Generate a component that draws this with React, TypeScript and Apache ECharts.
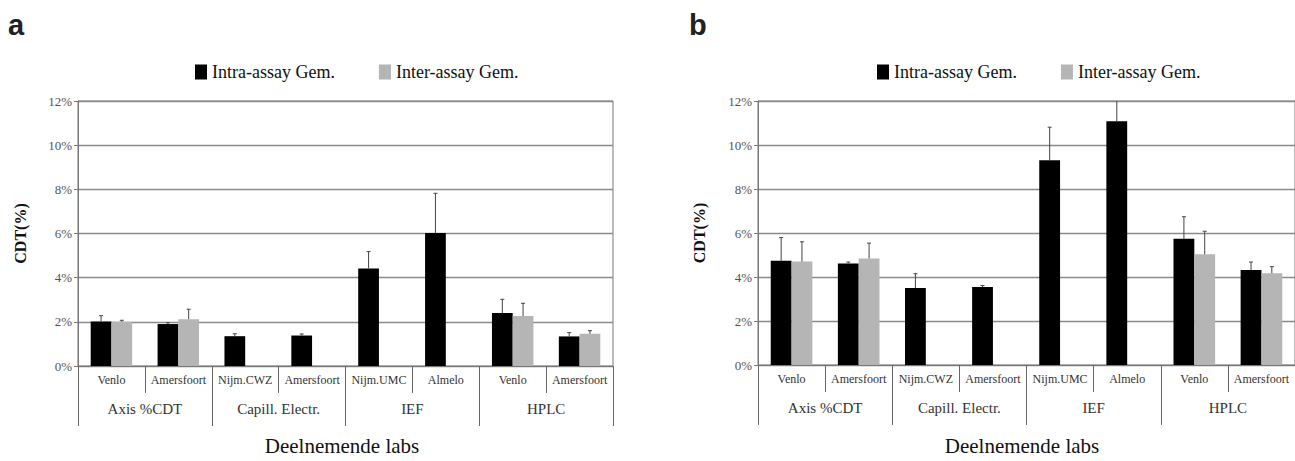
import React, { useEffect, useRef } from "react";
import * as echarts from "echarts";

const labs = ["Venlo", "Amersfoort", "Nijm.CWZ", "Amersfoort", "Nijm.UMC", "Almelo", "Venlo", "Amersfoort"];
const groups = ["Axis %CDT", "Capill. Electr.", "IEF", "HPLC"];
const yTicks = [0, 2, 4, 6, 8, 10, 12];

// Panel a
const aIntra = [2.02, 1.9, 1.35, 1.38, 4.42, 6.02, 2.4, 1.34];
const aIntraErr = [0.26, 0.06, 0.11, 0.07, 0.76, 1.8, 0.62, 0.17];
const aInter = [2.0, 2.12, null, null, null, null, 2.26, 1.46];
const aInterErr = [0.07, 0.45, null, null, null, null, 0.58, 0.14];

// Panel b
const bIntra = [4.74, 4.61, 3.5, 3.55, 9.31, 11.08, 5.74, 4.32];
const bIntraErr = [1.05, 0.07, 0.65, 0.06, 1.5, 1.3, 1.0, 0.36];
const bInter = [4.7, 4.84, null, null, null, null, 5.03, 4.17];
const bInterErr = [0.9, 0.7, null, null, null, null, 1.05, 0.3];

const SERIF = "'Liberation Serif', 'Times New Roman', serif";
const INTRA = "Intra-assay Gem.";
const INTER = "Inter-assay Gem.";
const BAR_W = 0.31;

function errData(vals: (number | null)[], errs: (number | null)[]) {
  const out: any[] = [];
  vals.forEach((v, i) => {
    if (v != null && errs[i] != null) out.push([i, v, errs[i]]);
  });
  return out;
}

function errSeries(idx: number, vals: (number | null)[], errs: (number | null)[], side: number) {
  return {
    type: "custom",
    xAxisIndex: idx * 2,
    yAxisIndex: idx,
    clip: true,
    silent: true,
    z: 5,
    data: errData(vals, errs),
    renderItem: (params: any, api: any) => {
      const x = api.value(0);
      const v = api.value(1);
      const e = api.value(2);
      const base = api.coord([x, v]);
      const top = api.coord([x, v + e]);
      const band = api.size([1, 0])[0];
      const cx = base[0] + side * band * BAR_W * 0.5;
      const st = { stroke: "#444", lineWidth: 1 };
      return {
        type: "group",
        children: [
          { type: "line", shape: { x1: cx, y1: base[1], x2: cx, y2: top[1] }, style: st },
          { type: "line", shape: { x1: cx - 2, y1: top[1], x2: cx + 2, y2: top[1] }, style: st },
        ],
      };
    },
  };
}

function xAxes(idx: number) {
  return [
    {
      type: "category",
      gridIndex: idx,
      data: labs,
      position: "bottom",
      axisLine: { show: true, lineStyle: { color: "#777", width: 1 } },
      axisTick: { show: true, interval: 0, length: 27, alignWithLabel: false, lineStyle: { color: "#666", width: 1 } },
      axisLabel: { interval: 0, margin: 8, fontFamily: SERIF, fontSize: 12, color: "#333" },
      splitLine: { show: false },
    },
    {
      type: "category",
      gridIndex: idx,
      data: groups,
      position: "bottom",
      axisLine: { show: false },
      axisTick: { show: true, interval: 0, length: 60, alignWithLabel: false, lineStyle: { color: "#666", width: 1 } },
      axisLabel: { interval: 0, margin: 35, fontFamily: SERIF, fontSize: 15, color: "#333" },
      splitLine: { show: false },
    },
  ];
}

function yAxis(idx: number, nameGap: number) {
  return {
    type: "value",
    gridIndex: idx,
    min: yTicks[0],
    max: yTicks[yTicks.length - 1],
    interval: 2,
    name: "CDT(%)",
    nameLocation: "middle",
    nameRotate: 90,
    nameGap,
    nameTextStyle: { fontFamily: SERIF, fontWeight: "bold", fontSize: 16, color: "#111" },
    axisLine: { show: true, lineStyle: { color: "#777", width: 1 } },
    axisTick: { show: true, length: 4, lineStyle: { color: "#777" } },
    axisLabel: { formatter: "{value}%", margin: 6, fontFamily: SERIF, fontSize: 13, color: "#555" },
    splitLine: { show: true, lineStyle: { color: "#8a8a8a", width: 1.3 } },
  };
}

function bars(idx: number, intra: (number | null)[], inter: (number | null)[]) {
  const common = {
    type: "bar",
    xAxisIndex: idx * 2,
    yAxisIndex: idx,
    barWidth: `${BAR_W * 100}%`,
    barGap: "0%",
  };
  return [
    { ...common, name: INTRA, data: intra, itemStyle: { color: "#000" } },
    { ...common, name: INTER, data: inter, itemStyle: { color: "#b5b5b5" } },
  ];
}

export default function App() {
  const ref = useRef<HTMLDivElement>(null);
  useEffect(() => {
    if (!ref.current) return;
    const chart = echarts.init(ref.current, undefined, { renderer: "svg" });
    const legendBase = {
      icon: "rect",
      itemWidth: 12,
      itemHeight: 15,
      itemGap: 44,
      top: 58,
      textStyle: { fontFamily: SERIF, fontSize: 18, color: "#111" },
      data: [INTRA, INTER],
      selectedMode: false,
    };
    chart.setOption({
      animation: false,
      backgroundColor: "#fff",
      textStyle: { fontFamily: SERIF },
      legend: [
        { ...legendBase, left: 190 },
        { ...legendBase, left: 872 },
      ],
      grid: [
        { left: 78, top: 101, width: 535, height: 265, show: true, borderColor: "#777", borderWidth: 1 },
        { left: 758, top: 101, width: 542, height: 264, show: true, borderColor: "#777", borderWidth: 1 },
      ],
      xAxis: [...xAxes(0), ...xAxes(1)],
      yAxis: [yAxis(0, 50), yAxis(1, 51)],
      series: [
        ...bars(0, aIntra, aInter),
        errSeries(0, aIntra, aIntraErr, -1),
        errSeries(0, aInter, aInterErr, 1),
        ...bars(1, bIntra, bInter),
        errSeries(1, bIntra, bIntraErr, -1),
        errSeries(1, bInter, bInterErr, 1),
      ],
      graphic: [
        { type: "text", left: 8, top: 10, style: { text: "a", font: "bold 29px 'Liberation Sans'", fill: "#222" } },
        { type: "text", left: 689, top: 10, style: { text: "b", font: "bold 29px 'Liberation Sans'", fill: "#222" } },
        { type: "text", x: 342, y: 446, style: { text: "Deelnemende labs", font: `21px ${SERIF}`, fill: "#111", align: "center", verticalAlign: "middle" } },
        { type: "text", x: 1022, y: 446, style: { text: "Deelnemende labs", font: `21px ${SERIF}`, fill: "#111", align: "center", verticalAlign: "middle" } },
      ],
    });
    return () => chart.dispose();
  }, []);
  return <div ref={ref} style={{ position: "absolute", left: 0, top: 0, width: 1295, height: 461 }} />;
}
